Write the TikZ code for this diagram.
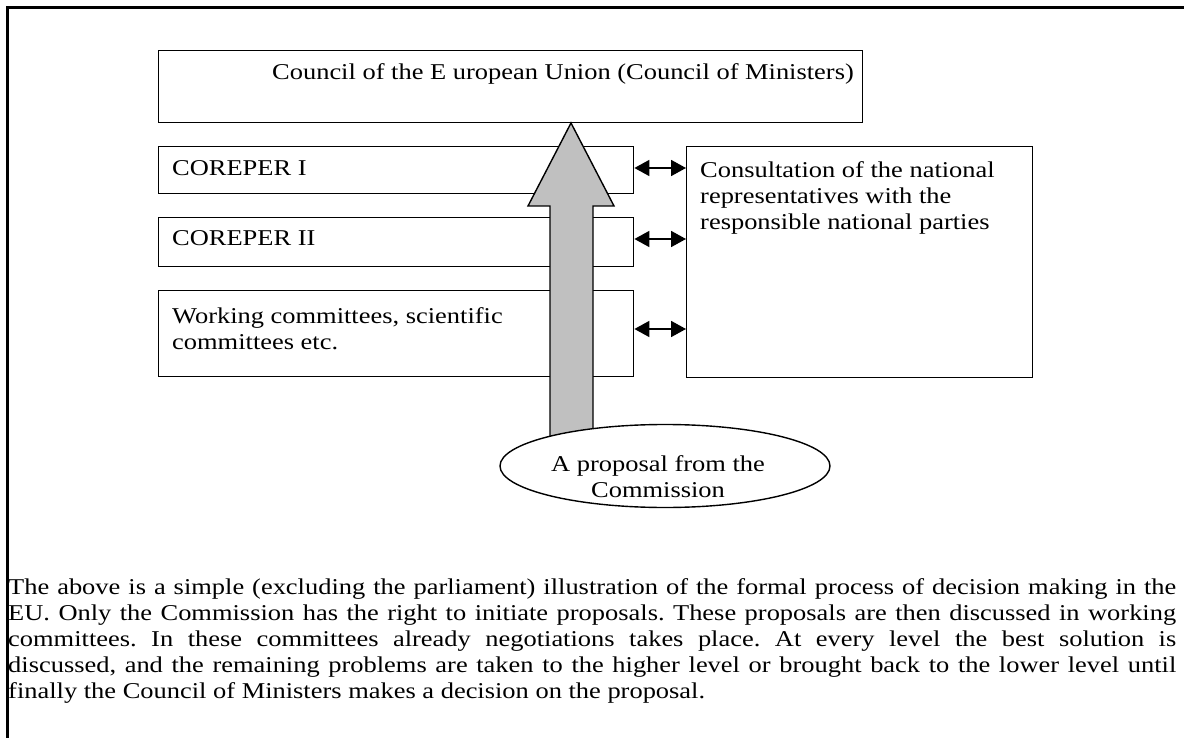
\documentclass[tikz,border=0pt]{standalone}
\usepackage{fontspec}
\setmainfont{Liberation Serif}[FakeStretch=1.17]
\usetikzlibrary{arrows.meta,shapes.geometric}
\begin{document}
\begin{tikzpicture}[x=1pt,y=-1pt,
  every node/.style={font=\fontsize{22.6}{26}\selectfont},
  box/.style={draw,line width=1.4pt,rectangle,inner sep=0pt,anchor=north west},
  txt/.style={inner sep=0pt,anchor=base west,align=left},
  dbl/.style={line width=1.8pt,{Triangle[length=15pt,width=16pt]}-{Triangle[length=15pt,width=16pt]}},
  bigarrow/.style={draw,line width=1.4pt,fill={rgb,255:red,192;green,192;blue,192},line join=miter}]
\frenchspacing
\useasboundingbox (0,0) rectangle (1184,738);
\fill[white] (0,0) rectangle (1184,738);
% outer frame (top and left)
\draw[line width=3pt] (7,738) -- (7,8) -- (1184,8);
% boxes
\node[box,minimum width=704pt,minimum height=72pt] (council) at (158,50) {};
\node[txt] (counciltxt) at (272,80) {Council of the E uropean Union (Council of Ministers)};
\node[box,minimum width=475pt,minimum height=47pt] (c1) at (158,146) {};
\node[txt] (c1txt) at (172,176) {COREPER I};
\node[box,minimum width=475pt,minimum height=49pt] (c2) at (158,217) {};
\node[txt] (c2txt) at (172,246) {COREPER II};
\node[box,minimum width=475pt,minimum height=86pt] (wc) at (158,290) {};
\node[txt] (wctxt) at (172,349) {Working committees, scientific\\committees etc.};
\node[box,minimum width=346pt,minimum height=231pt] (cons) at (686,146) {};
\node[txt] (constxt) at (700,230) {Consultation of the national\\representatives with the\\responsible national parties};
% double arrows
\coordinate (a1l) at (c1.east |- 0,168);
\coordinate (a1r) at (cons.west |- 0,168);
\coordinate (a2l) at (c2.east |- 0,239);
\coordinate (a2r) at (cons.west |- 0,239);
\coordinate (a3l) at (wc.east |- 0,329);
\coordinate (a3r) at (cons.west |- 0,329);
\draw[dbl] (a1l) -- (a1r);
\draw[dbl] (a2l) -- (a2r);
\draw[dbl] (a3l) -- (a3r);
% big arrow
\draw[bigarrow] (571,123) -- (614,206) -- (593,206) -- (593,440) -- (550,440) -- (550,206) -- (528,206) -- cycle;
% ellipse
\node[ellipse,draw,line width=1.4pt,fill=white,minimum width=330pt,minimum height=83pt,inner sep=0pt] (prop) at (665,466) {};
\node[inner sep=0pt,anchor=base,align=center] (proptxt) at (658,497) {A proposal from the\\Commission};
% paragraph
\node[inner sep=0pt,anchor=base west,text width=1168pt,align=justify] (para) at (8,594) {The above is a simple (excluding the parliament) illustration of the formal process of decision making in the\linebreak EU. Only the Commission has the right to initiate proposals. These proposals are then discussed in working\linebreak committees. In these committees already negotiations takes place. At every level the best solution is\linebreak discussed, and the remaining problems are taken to the higher level or brought back to the lower level until\linebreak finally the Council of Ministers makes a decision on the proposal.};
\end{tikzpicture}
\end{document}
